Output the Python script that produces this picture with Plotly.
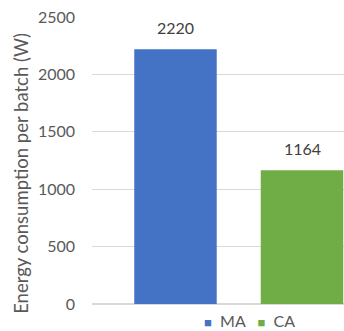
import plotly.graph_objects as go

series_names = ["MA", "CA"]
values = [2220, 1164]
y_ticks = [0, 500, 1000, 1500, 2000, 2500]
colors = ["#4472C4", "#70AD47"]
y_title = "Energy consumption per batch (W)"

fig = go.Figure()
for name, val, col in zip(series_names, values, colors):
    fig.add_trace(go.Bar(
        x=[name], y=[val], name=name,
        marker=dict(color=col, line=dict(width=0)),
        showlegend=False,
    ))
    fig.add_annotation(x=name, y=val, text=str(val), showarrow=False,
                       yanchor="bottom", yshift=10,
                       font=dict(size=16, color="#404040"))

legend_text = "   ".join(
    f"<span style='color:{c};font-size:13px'>■</span>  {n}" for n, c in zip(series_names, colors)
)
fig.add_annotation(xref="paper", yref="paper", x=0.625, y=-0.056, xanchor="center",
                   yanchor="middle", text=legend_text, showarrow=False, borderpad=0,
                   font=dict(size=16, color="#595959"))
fig.add_annotation(xref="paper", yref="paper", x=-0.28, y=0.455, xanchor="center",
                   yanchor="middle", textangle=-90, text=y_title, showarrow=False,
                   font=dict(size=18.5, color="#595959"))

fig.update_layout(
    width=344, height=331,
    margin=dict(l=92, r=0, t=17, b=27),
    paper_bgcolor="white", plot_bgcolor="white",
    font=dict(family="Lato", size=16, color="#595959"),
    barmode="overlay", bargap=0.348,
    showlegend=False,
)
fig.update_xaxes(range=[-0.66, 1.332], showticklabels=False, showgrid=False,
                 showline=False, zeroline=False, automargin=False)
fig.update_yaxes(range=[0, 2500], tickvals=y_ticks, showgrid=True, gridcolor="#D9D9D9",
                 gridwidth=1, zeroline=True, zerolinecolor="#D9D9D9", showline=False,
                 ticklabelstandoff=16, automargin=False,
                 tickfont=dict(size=16, color="#595959"))

fig.write_html("out.html")
